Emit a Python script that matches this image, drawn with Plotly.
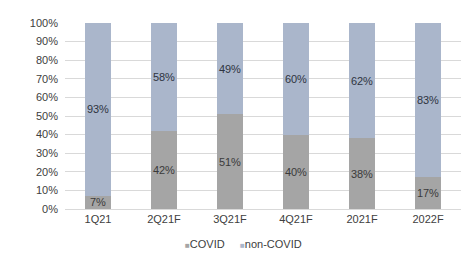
import plotly.graph_objects as go

categories = ["1Q21", "2Q21F", "3Q21F", "4Q21F", "2021F", "2022F"]
covid = [7, 42, 51, 40, 38, 17]
non_covid = [93, 58, 49, 60, 62, 83]

covid_color = "#a5a5a5"
noncovid_color = "#aab6cb"

fig = go.Figure()
fig.add_trace(go.Bar(
    x=categories, y=covid, name="COVID",
    marker=dict(color=covid_color, line=dict(width=0)),
    text=[f"{v}%" for v in covid], textposition="inside", insidetextanchor="middle",
    textangle=0, showlegend=False, constraintext="none",
    textfont=dict(color="#3a3a3a", size=11, family="Liberation Sans, Arial"),
))
fig.add_trace(go.Bar(
    x=categories, y=non_covid, name="non-COVID",
    marker=dict(color=noncovid_color, line=dict(width=0)),
    text=[f"{v}%" for v in non_covid], textposition="inside", insidetextanchor="middle",
    textangle=0, showlegend=False, constraintext="none",
    textfont=dict(color="#2e3440", size=11, family="Liberation Sans, Arial"),
))

fig.add_annotation(
    xref="paper", yref="paper", x=0.45, y=-0.19, xanchor="center", yanchor="middle",
    showarrow=False,
    text=(f"<span style='color:{covid_color};font-size:8px'>■</span>COVID&nbsp;&nbsp;&nbsp;&nbsp;&nbsp;"
          f"<span style='color:{noncovid_color};font-size:8px'>■</span>non-COVID"),
    font=dict(size=11, color="#404040", family="Liberation Sans, Arial"),
)

fig.update_layout(
    barmode="stack",
    bargap=0.62,
    width=464, height=245,
    margin=dict(l=57, r=11, t=9, b=44),
    paper_bgcolor="white", plot_bgcolor="white",
    font=dict(family="Liberation Sans, Arial", size=11, color="#404040"),
    xaxis=dict(showline=True, linecolor="#d9d9d9", linewidth=1, ticks="",
               tickfont=dict(size=11, color="#404040")),
    yaxis=dict(range=[0, 100], dtick=10, ticksuffix="%", showgrid=True,
               gridcolor="#d9d9d9", gridwidth=1, zeroline=False,
               tickfont=dict(size=11, color="#404040"), ticklabelstandoff=6),
)

fig.write_html("out.html")
